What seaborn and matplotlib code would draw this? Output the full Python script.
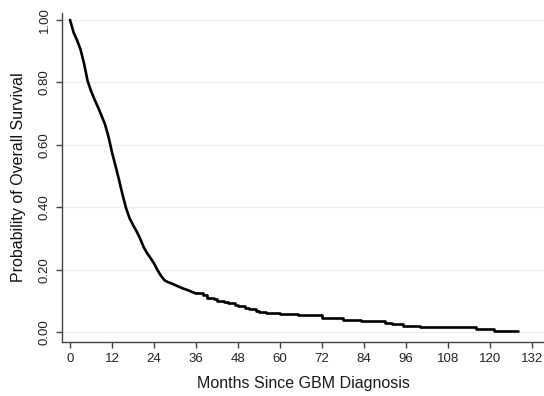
import matplotlib
matplotlib.use("Agg")
import matplotlib.pyplot as plt
import numpy as np
import pandas as pd
import seaborn as sns

# Kaplan-Meier estimate of overall survival after GBM diagnosis
# Early part: dense readings (month, survival)
early_months = [0, 1, 2, 3, 4, 5, 6, 7, 8, 9, 10, 11, 12, 13, 14, 15, 16, 17,
                18, 19, 20, 21, 22, 23, 24, 25, 26, 27, 28, 29, 30, 31, 32, 33,
                34, 35, 36]
early_surv = [1.00, 0.96, 0.935, 0.905, 0.86, 0.805, 0.772, 0.745, 0.72, 0.693,
              0.665, 0.625, 0.575, 0.532, 0.487, 0.44, 0.397, 0.365, 0.343,
              0.323, 0.30, 0.273, 0.253, 0.237, 0.22, 0.198, 0.18, 0.166,
              0.16, 0.156, 0.151, 0.146, 0.141, 0.137, 0.133, 0.128, 0.124]

# Tail: step changes (month of drop, survival after drop)
tail_months = [36, 38, 39, 41, 42, 44, 45, 47, 48, 50, 51, 53, 54, 56, 57, 60,
               65, 72, 78, 83, 90, 92, 95, 100, 116, 121, 128]
tail_surv = [0.124, 0.118, 0.110, 0.105, 0.101, 0.097, 0.094, 0.088, 0.083,
             0.078, 0.074, 0.069, 0.066, 0.062, 0.060, 0.058, 0.054, 0.046,
             0.040, 0.035, 0.029, 0.025, 0.020, 0.017, 0.010, 0.004, 0.004]

x_ticks = list(range(0, 133, 12))
y_ticks = [0.0, 0.2, 0.4, 0.6, 0.8, 1.0]

early = pd.DataFrame({"month": early_months, "surv": early_surv})
tail = pd.DataFrame({"month": tail_months, "surv": tail_surv})

sns.set_theme(style="white")
plt.rcParams["font.family"] = ["Liberation Sans", "DejaVu Sans"]

fig = plt.figure(figsize=(5.44, 3.96), dpi=100)
ax = fig.add_axes([0.114, 0.136, 0.886, 0.831])

for y in y_ticks:
    ax.axhline(y, color="#e8f0f0", lw=1.0, zorder=0)

sns.lineplot(data=early, x="month", y="surv", color="black", lw=1.9,
             ax=ax, estimator=None, sort=False)
sns.lineplot(data=tail, x="month", y="surv", color="black", lw=1.9,
             ax=ax, estimator=None, sort=False, drawstyle="steps-post")

ax.set_xlim(-2.3, 135.4)
ax.set_ylim(-0.032, 1.022)
ax.set_xticks(x_ticks)
ax.set_xticklabels([str(v) for v in x_ticks])
ax.set_yticks(y_ticks)
ax.set_yticklabels([f"{v:.2f}" for v in y_ticks], rotation=90, va="center")

for side in ["top", "right"]:
    ax.spines[side].set_visible(False)
for side in ["left", "bottom"]:
    ax.spines[side].set_color("#444444")
    ax.spines[side].set_linewidth(1.0)

ax.tick_params(axis="both", which="major", direction="out", length=4,
               width=1.0, color="#444444", labelsize=9.5, labelcolor="#222222",
               bottom=True, left=True, pad=4)

ax.set_xlabel("Months Since GBM Diagnosis", fontsize=11.5, color="#1a1a1a",
              labelpad=8)
ax.set_ylabel("Probability of Overall Survival", fontsize=11.5,
              color="#111111", labelpad=9)

fig.savefig("out.png", dpi=100, facecolor="white")
